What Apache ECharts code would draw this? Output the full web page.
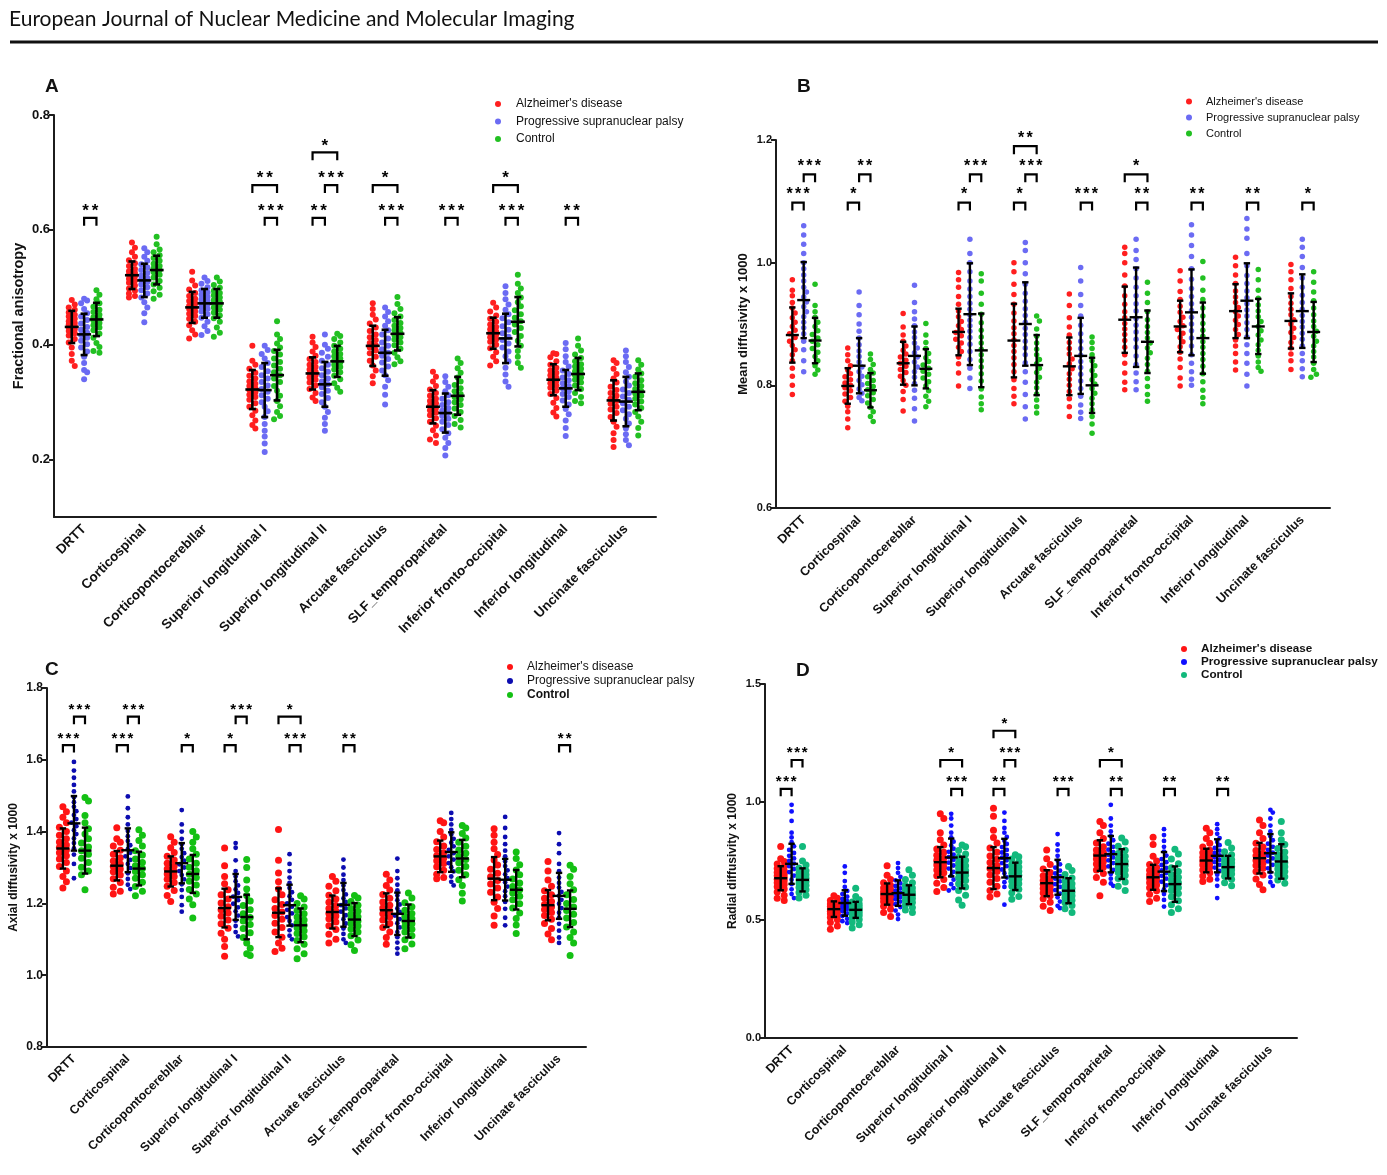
<!DOCTYPE html>
<html>
<head>
<meta charset="utf-8">
<title>DTI metrics by tract</title>
<script src="https://cdn.jsdelivr.net/npm/echarts@6/dist/echarts.min.js"></script>
<style>
  html, body { margin: 0; padding: 0; background: #fff; }
  #chart { width: 1387px; height: 1175px; }
</style>
</head>
<body>
<div id="chart"></div>
<script>
const TRACTS = ['DRTT', 'Corticospinal', 'Corticopontocerebllar', 'Superior longitudinal I',
  'Superior longitudinal II', 'Arcuate fasciculus', 'SLF_temporoparietal',
  'Inferior fronto-occipital', 'Inferior longitudinal', 'Uncinate fasciculus'];
const GROUPS = ["Alzheimer's disease", 'Progressive supranuclear palsy', 'Control'];

// ---- A: fractional anisotropy ----
const faTicks = [0.2, 0.4, 0.6, 0.8];
const faAD = [
  [0.478,0.47,0.465,0.461,0.456,0.452,0.449,0.445,0.441,0.438,0.435,0.432,0.43,0.427,0.424,0.42,0.416,0.41,0.404,0.395,0.384,0.372,0.363],
  [0.578,0.569,0.561,0.553,0.547,0.542,0.537,0.532,0.528,0.525,0.522,0.519,0.515,0.512,0.508,0.503,0.498,0.494,0.489,0.485,0.482],
  [0.527,0.512,0.503,0.496,0.49,0.485,0.48,0.476,0.472,0.468,0.465,0.462,0.458,0.454,0.45,0.445,0.44,0.434,0.425,0.418,0.411],
  [0.398,0.372,0.365,0.358,0.351,0.346,0.341,0.336,0.332,0.328,0.324,0.321,0.317,0.313,0.309,0.304,0.298,0.292,0.285,0.277,0.268,0.26,0.254],
  [0.414,0.404,0.396,0.388,0.381,0.375,0.37,0.365,0.361,0.357,0.353,0.35,0.347,0.343,0.339,0.334,0.329,0.323,0.316,0.308,0.302],
  [0.472,0.462,0.452,0.444,0.437,0.43,0.424,0.418,0.413,0.408,0.403,0.399,0.395,0.39,0.385,0.379,0.372,0.364,0.355,0.345,0.333],
  [0.353,0.344,0.336,0.328,0.322,0.316,0.311,0.306,0.302,0.298,0.294,0.29,0.286,0.282,0.277,0.272,0.266,0.259,0.251,0.242,0.235,0.229],
  [0.473,0.465,0.458,0.451,0.445,0.44,0.435,0.431,0.427,0.423,0.42,0.417,0.413,0.409,0.405,0.4,0.394,0.387,0.379,0.371,0.364],
  [0.385,0.384,0.378,0.371,0.365,0.36,0.355,0.351,0.347,0.343,0.34,0.337,0.333,0.329,0.325,0.32,0.314,0.307,0.299,0.29,0.282,0.275],
  [0.373,0.368,0.358,0.349,0.341,0.334,0.327,0.321,0.316,0.311,0.306,0.302,0.297,0.292,0.287,0.281,0.274,0.266,0.257,0.246,0.234,0.222]
];
const faPSP = [
  [0.48,0.477,0.472,0.462,0.455,0.449,0.443,0.437,0.431,0.426,0.421,0.417,0.412,0.407,0.401,0.395,0.388,0.379,0.368,0.356,0.352,0.34],
  [0.568,0.561,0.553,0.546,0.54,0.535,0.53,0.525,0.52,0.516,0.513,0.509,0.505,0.5,0.495,0.489,0.482,0.474,0.465,0.455,0.439],
  [0.517,0.511,0.506,0.5,0.495,0.491,0.487,0.483,0.479,0.476,0.473,0.47,0.466,0.462,0.458,0.453,0.447,0.44,0.432,0.424,0.417],
  [0.398,0.391,0.384,0.376,0.368,0.361,0.354,0.347,0.341,0.335,0.329,0.323,0.318,0.312,0.306,0.3,0.292,0.284,0.274,0.262,0.25,0.24,0.228,0.213],
  [0.418,0.4,0.393,0.386,0.379,0.372,0.365,0.359,0.353,0.347,0.341,0.336,0.331,0.326,0.32,0.314,0.307,0.3,0.292,0.283,0.273,0.262,0.25],
  [0.465,0.457,0.449,0.441,0.433,0.425,0.418,0.411,0.404,0.398,0.392,0.386,0.381,0.375,0.369,0.362,0.355,0.347,0.338,0.327,0.313,0.296],
  [0.345,0.335,0.327,0.319,0.312,0.306,0.3,0.295,0.29,0.285,0.281,0.276,0.271,0.266,0.26,0.253,0.246,0.238,0.229,0.22,0.207],
  [0.502,0.49,0.479,0.47,0.461,0.453,0.446,0.439,0.432,0.426,0.42,0.414,0.408,0.402,0.395,0.388,0.38,0.371,0.36,0.348,0.336,0.327],
  [0.403,0.392,0.38,0.37,0.362,0.355,0.349,0.343,0.338,0.333,0.328,0.324,0.319,0.314,0.309,0.303,0.296,0.288,0.279,0.268,0.255,0.241],
  [0.39,0.38,0.37,0.361,0.352,0.344,0.336,0.329,0.322,0.316,0.31,0.304,0.298,0.292,0.286,0.279,0.271,0.263,0.254,0.244,0.234,0.225]
];
const faCtrl = [
  [0.495,0.487,0.479,0.472,0.466,0.461,0.457,0.452,0.448,0.445,0.442,0.438,0.434,0.43,0.425,0.419,0.412,0.403,0.396,0.389,0.386],
  [0.588,0.575,0.566,0.561,0.556,0.551,0.546,0.541,0.537,0.533,0.53,0.526,0.522,0.517,0.511,0.505,0.499,0.493,0.487,0.48],
  [0.517,0.51,0.504,0.499,0.494,0.49,0.486,0.482,0.478,0.475,0.472,0.469,0.465,0.461,0.456,0.451,0.446,0.44,0.43,0.421,0.414],
  [0.441,0.418,0.41,0.402,0.395,0.389,0.383,0.376,0.37,0.364,0.358,0.352,0.347,0.341,0.335,0.328,0.32,0.311,0.302,0.293,0.283,0.276,0.27],
  [0.419,0.415,0.41,0.404,0.398,0.393,0.388,0.384,0.38,0.376,0.372,0.369,0.365,0.361,0.357,0.352,0.346,0.34,0.333,0.325,0.318],
  [0.483,0.471,0.462,0.455,0.449,0.443,0.438,0.433,0.429,0.425,0.421,0.417,0.413,0.409,0.404,0.399,0.393,0.386,0.378,0.371,0.366],
  [0.376,0.368,0.359,0.351,0.343,0.336,0.33,0.324,0.319,0.314,0.309,0.305,0.3,0.295,0.289,0.283,0.276,0.269,0.262,0.256],
  [0.522,0.506,0.498,0.49,0.482,0.474,0.467,0.46,0.453,0.447,0.441,0.435,0.429,0.422,0.415,0.407,0.398,0.389,0.379,0.368,0.36],
  [0.411,0.398,0.39,0.383,0.377,0.371,0.366,0.362,0.358,0.354,0.35,0.347,0.343,0.339,0.334,0.329,0.323,0.316,0.309,0.302,0.298],
  [0.373,0.365,0.357,0.35,0.344,0.338,0.333,0.328,0.323,0.319,0.315,0.311,0.306,0.301,0.296,0.29,0.283,0.275,0.266,0.255,0.242]
];
const faMeanAD = [0.431,0.521,0.465,0.322,0.350,0.398,0.292,0.420,0.339,0.303];
const faSdAD = [0.028,0.024,0.027,0.034,0.028,0.035,0.029,0.027,0.027,0.035];
const faMeanPSP = [0.418,0.512,0.472,0.321,0.331,0.386,0.281,0.411,0.324,0.301];
const faSdPSP = [0.036,0.029,0.025,0.047,0.039,0.040,0.034,0.043,0.032,0.043];
const faMeanCtrl = [0.444,0.530,0.472,0.347,0.371,0.419,0.311,0.440,0.349,0.318];
const faSdCtrl = [0.029,0.025,0.025,0.044,0.027,0.029,0.033,0.043,0.028,0.032];
// [tract, from group, to group, bracket level, number of stars]
const faBrackets = [
  [0,1,2,0.621,2],[3,1,2,0.621,3],[3,0,2,0.678,2],[4,0,1,0.621,2],[4,1,2,0.678,3],[4,0,2,0.735,1],
  [5,1,2,0.621,3],[5,0,2,0.678,1],[6,1,2,0.621,3],[7,1,2,0.621,3],[7,0,2,0.678,1],[8,1,2,0.621,2]
];

// ---- B: mean diffusivity ----
const mdTicks = [0.6, 0.8, 1.0, 1.2];
const mdAD = [
  [0.972,0.955,0.946,0.935,0.926,0.918,0.91,0.903,0.896,0.89,0.884,0.878,0.872,0.865,0.858,0.85,0.84,0.828,0.815,0.8,0.785],
  [0.861,0.85,0.84,0.832,0.825,0.819,0.814,0.809,0.804,0.8,0.796,0.791,0.786,0.78,0.774,0.766,0.757,0.745,0.731],
  [0.917,0.895,0.882,0.872,0.864,0.857,0.851,0.846,0.841,0.836,0.831,0.826,0.821,0.815,0.808,0.8,0.79,0.777,0.758],
  [0.984,0.972,0.96,0.945,0.932,0.921,0.912,0.904,0.897,0.891,0.886,0.881,0.875,0.869,0.862,0.855,0.846,0.835,0.82,0.799],
  [1.0,0.985,0.965,0.948,0.932,0.918,0.905,0.894,0.884,0.874,0.865,0.855,0.845,0.834,0.822,0.809,0.795,0.782,0.77],
  [0.949,0.93,0.91,0.895,0.882,0.87,0.86,0.851,0.843,0.835,0.827,0.819,0.81,0.8,0.79,0.778,0.765,0.749],
  [1.025,1.015,1.0,0.98,0.962,0.946,0.932,0.92,0.91,0.901,0.892,0.883,0.873,0.862,0.85,0.836,0.82,0.805,0.793],
  [0.987,0.97,0.953,0.94,0.929,0.919,0.911,0.904,0.897,0.891,0.885,0.878,0.871,0.863,0.854,0.843,0.829,0.812,0.799],
  [1.009,0.995,0.98,0.966,0.954,0.944,0.935,0.927,0.92,0.913,0.906,0.899,0.891,0.883,0.874,0.864,0.852,0.838,0.825],
  [0.997,0.985,0.972,0.958,0.945,0.934,0.924,0.915,0.907,0.9,0.893,0.886,0.878,0.87,0.861,0.851,0.84,0.826]
];
const mdPSP = [
  [1.06,1.045,1.03,1.015,1.0,0.99,0.98,0.97,0.96,0.952,0.944,0.936,0.928,0.92,0.912,0.903,0.894,0.884,0.872,0.858,0.84,0.822],
  [0.952,0.93,0.915,0.9,0.888,0.877,0.866,0.856,0.847,0.838,0.83,0.822,0.815,0.808,0.801,0.794,0.787,0.78,0.775],
  [0.963,0.935,0.92,0.908,0.897,0.887,0.878,0.869,0.861,0.853,0.846,0.838,0.83,0.822,0.813,0.803,0.792,0.779,0.762,0.742],
  [1.038,1.015,1.0,0.985,0.97,0.957,0.945,0.934,0.924,0.915,0.906,0.897,0.888,0.878,0.867,0.855,0.842,0.828,0.812,0.795],
  [1.033,1.02,1.0,0.982,0.965,0.95,0.937,0.925,0.914,0.903,0.893,0.883,0.872,0.861,0.85,0.837,0.822,0.805,0.785,0.765,0.745],
  [0.992,0.97,0.948,0.93,0.913,0.898,0.884,0.872,0.86,0.849,0.839,0.829,0.818,0.807,0.795,0.782,0.768,0.756,0.746],
  [1.038,1.02,1.005,0.99,0.975,0.96,0.946,0.933,0.921,0.909,0.898,0.887,0.875,0.862,0.848,0.834,0.82,0.806,0.793],
  [1.062,1.045,1.028,1.01,0.99,0.973,0.958,0.945,0.933,0.922,0.911,0.9,0.889,0.877,0.864,0.85,0.836,0.822,0.81,0.8],
  [1.072,1.055,1.04,1.015,0.995,0.979,0.966,0.954,0.943,0.933,0.923,0.913,0.902,0.891,0.879,0.866,0.852,0.836,0.818,0.799],
  [1.038,1.025,1.01,0.992,0.975,0.96,0.947,0.935,0.924,0.914,0.904,0.895,0.885,0.875,0.864,0.852,0.84,0.827,0.814]
];
const mdCtrl = [
  [0.965,0.93,0.92,0.911,0.903,0.896,0.889,0.883,0.877,0.872,0.866,0.86,0.854,0.847,0.84,0.832,0.825,0.818],
  [0.851,0.842,0.834,0.826,0.82,0.814,0.808,0.803,0.798,0.793,0.788,0.783,0.777,0.771,0.764,0.757,0.749,0.741],
  [0.901,0.882,0.87,0.86,0.852,0.845,0.839,0.833,0.828,0.823,0.818,0.812,0.806,0.799,0.791,0.782,0.774,0.765],
  [0.982,0.97,0.95,0.932,0.916,0.902,0.89,0.879,0.869,0.859,0.85,0.84,0.83,0.819,0.807,0.794,0.781,0.77,0.76],
  [0.913,0.905,0.892,0.88,0.869,0.859,0.85,0.842,0.835,0.828,0.821,0.813,0.805,0.796,0.786,0.776,0.765,0.755],
  [0.879,0.87,0.86,0.85,0.84,0.832,0.824,0.816,0.809,0.802,0.795,0.787,0.779,0.77,0.76,0.749,0.737,0.722],
  [0.968,0.95,0.935,0.92,0.907,0.896,0.886,0.877,0.869,0.861,0.853,0.844,0.834,0.823,0.811,0.798,0.785,0.774],
  [1.002,0.975,0.955,0.94,0.926,0.913,0.901,0.89,0.88,0.871,0.862,0.852,0.842,0.831,0.819,0.806,0.792,0.78,0.77],
  [0.989,0.972,0.955,0.942,0.931,0.921,0.912,0.904,0.896,0.889,0.882,0.874,0.866,0.857,0.848,0.838,0.829,0.823],
  [0.985,0.968,0.952,0.938,0.926,0.915,0.905,0.896,0.888,0.88,0.872,0.864,0.855,0.846,0.836,0.826,0.818,0.813]
];
const mdMeanAD = [0.882,0.799,0.836,0.887,0.873,0.831,0.907,0.896,0.921,0.905];
const mdSdAD = [0.045,0.029,0.035,0.038,0.060,0.047,0.054,0.042,0.044,0.045];
const mdMeanPSP = [0.939,0.832,0.848,0.916,0.900,0.848,0.911,0.919,0.938,0.921];
const mdSdPSP = [0.062,0.045,0.048,0.083,0.068,0.062,0.081,0.070,0.061,0.060];
const mdMeanCtrl = [0.873,0.792,0.827,0.857,0.833,0.800,0.871,0.877,0.896,0.887];
const mdSdCtrl = [0.037,0.028,0.032,0.060,0.049,0.045,0.051,0.058,0.045,0.049];
const mdBrackets = [
  [0,0,1,1.098,3],[0,1,2,1.144,3],[1,0,1,1.098,1],[1,1,2,1.144,2],[3,0,1,1.098,1],[3,1,2,1.144,3],
  [4,0,1,1.098,1],[4,1,2,1.144,3],[4,0,2,1.190,2],[5,1,2,1.098,3],[6,1,2,1.098,2],[6,0,2,1.144,1],
  [7,1,2,1.098,2],[8,1,2,1.098,2],[9,1,2,1.098,1]
];

// ---- C: axial diffusivity ----
const axTicks = [0.8, 1.0, 1.2, 1.4, 1.6, 1.8];
const axAD = [
  [1.469,1.455,1.44,1.425,1.412,1.4,1.39,1.38,1.371,1.363,1.356,1.349,1.341,1.333,1.324,1.314,1.303,1.29,1.275,1.26,1.243],
  [1.411,1.38,1.37,1.36,1.348,1.337,1.327,1.318,1.31,1.303,1.296,1.288,1.279,1.269,1.258,1.245,1.234,1.226],
  [1.386,1.37,1.355,1.342,1.331,1.321,1.312,1.304,1.296,1.289,1.282,1.275,1.267,1.258,1.248,1.236,1.222,1.205],
  [1.354,1.305,1.275,1.255,1.238,1.224,1.212,1.201,1.191,1.182,1.173,1.164,1.154,1.143,1.131,1.117,1.1,1.08,1.053],
  [1.406,1.32,1.285,1.26,1.24,1.224,1.21,1.197,1.186,1.176,1.166,1.156,1.145,1.133,1.12,1.106,1.09,1.075,1.066],
  [1.275,1.262,1.248,1.235,1.223,1.212,1.203,1.194,1.186,1.179,1.172,1.165,1.157,1.148,1.138,1.127,1.114,1.1,1.09],
  [1.281,1.265,1.25,1.237,1.225,1.214,1.204,1.195,1.187,1.179,1.171,1.163,1.154,1.144,1.133,1.12,1.105,1.086],
  [1.43,1.425,1.4,1.385,1.372,1.36,1.35,1.341,1.333,1.326,1.319,1.311,1.302,1.292,1.281,1.272,1.269],
  [1.408,1.39,1.37,1.352,1.336,1.321,1.307,1.295,1.284,1.274,1.264,1.254,1.243,1.231,1.218,1.203,1.186,1.165,1.139],
  [1.317,1.29,1.265,1.248,1.235,1.224,1.214,1.205,1.197,1.19,1.183,1.175,1.166,1.156,1.144,1.13,1.115,1.099]
];
const axPSP = [
  [1.594,1.57,1.55,1.53,1.512,1.496,1.482,1.469,1.457,1.446,1.435,1.425,1.415,1.404,1.393,1.381,1.368,1.353,1.336,1.31,1.27],
  [1.498,1.465,1.44,1.42,1.402,1.387,1.374,1.362,1.351,1.341,1.331,1.321,1.31,1.298,1.284,1.268,1.252,1.24],
  [1.46,1.42,1.4,1.38,1.365,1.352,1.34,1.329,1.319,1.309,1.3,1.29,1.279,1.267,1.253,1.237,1.218,1.195,1.177],
  [1.368,1.355,1.32,1.29,1.275,1.262,1.25,1.239,1.229,1.219,1.209,1.199,1.189,1.178,1.166,1.152,1.137,1.12,1.108],
  [1.337,1.31,1.29,1.272,1.257,1.243,1.231,1.22,1.21,1.2,1.191,1.182,1.172,1.162,1.151,1.139,1.125,1.11,1.1],
  [1.322,1.3,1.28,1.265,1.25,1.237,1.225,1.214,1.204,1.195,1.186,1.177,1.167,1.156,1.144,1.13,1.115,1.1,1.09],
  [1.325,1.29,1.27,1.252,1.236,1.222,1.209,1.197,1.186,1.176,1.166,1.156,1.145,1.133,1.12,1.106,1.091,1.075,1.06],
  [1.452,1.435,1.42,1.405,1.392,1.38,1.369,1.359,1.349,1.34,1.331,1.322,1.312,1.301,1.289,1.275,1.26,1.25],
  [1.441,1.41,1.385,1.365,1.347,1.331,1.317,1.304,1.292,1.281,1.27,1.259,1.247,1.234,1.22,1.204,1.185,1.16,1.139],
  [1.396,1.365,1.34,1.31,1.29,1.272,1.257,1.244,1.232,1.221,1.21,1.199,1.187,1.174,1.16,1.143,1.124,1.105,1.09]
];
const axCtrl = [
  [1.495,1.485,1.445,1.425,1.408,1.393,1.38,1.368,1.357,1.347,1.337,1.326,1.314,1.301,1.29,1.28,1.238],
  [1.405,1.39,1.375,1.36,1.347,1.335,1.324,1.314,1.305,1.297,1.289,1.28,1.27,1.259,1.247,1.234,1.221],
  [1.4,1.385,1.37,1.352,1.337,1.324,1.312,1.301,1.291,1.281,1.272,1.262,1.251,1.239,1.226,1.212,1.196,1.159],
  [1.322,1.3,1.265,1.24,1.222,1.207,1.194,1.182,1.171,1.161,1.151,1.141,1.13,1.118,1.105,1.09,1.075,1.06,1.055],
  [1.221,1.212,1.2,1.19,1.18,1.171,1.162,1.154,1.146,1.139,1.132,1.124,1.116,1.107,1.097,1.086,1.074,1.06,1.046],
  [1.222,1.215,1.205,1.195,1.186,1.178,1.17,1.163,1.157,1.151,1.144,1.137,1.129,1.12,1.11,1.098,1.085,1.069],
  [1.229,1.215,1.202,1.191,1.181,1.172,1.164,1.157,1.15,1.143,1.136,1.128,1.12,1.11,1.099,1.087,1.074],
  [1.417,1.41,1.395,1.382,1.37,1.359,1.349,1.34,1.331,1.322,1.313,1.303,1.292,1.28,1.266,1.25,1.228,1.207],
  [1.343,1.325,1.308,1.293,1.28,1.268,1.257,1.247,1.238,1.229,1.22,1.21,1.199,1.187,1.173,1.158,1.14,1.116],
  [1.306,1.295,1.275,1.255,1.238,1.224,1.211,1.2,1.19,1.18,1.17,1.159,1.147,1.134,1.12,1.105,1.09,1.055]
];
const axMeanAD = [1.353,1.305,1.289,1.187,1.174,1.176,1.181,1.331,1.269,1.195];
const axSdAD = [0.056,0.041,0.042,0.054,0.068,0.046,0.047,0.044,0.060,0.042];
const axMeanPSP = [1.423,1.348,1.312,1.218,1.195,1.196,1.171,1.343,1.266,1.221];
const axSdPSP = [0.076,0.061,0.056,0.064,0.057,0.061,0.059,0.055,0.058,0.064];
const axMeanCtrl = [1.347,1.297,1.282,1.162,1.139,1.155,1.151,1.325,1.238,1.185];
const axSdCtrl = [0.064,0.047,0.053,0.062,0.047,0.046,0.046,0.052,0.055,0.051];
const axBrackets = [
  [0,0,1,1.641,3],[0,1,2,1.72,3],[1,0,1,1.641,3],[1,1,2,1.72,3],[2,1,2,1.641,1],[3,0,1,1.641,1],
  [3,1,2,1.72,3],[4,1,2,1.641,3],[4,0,2,1.72,1],[5,1,2,1.641,2],[9,1,2,1.641,2]
];

// ---- D: radial diffusivity ----
const rdTicks = [0, 0.5, 1.0, 1.5];
const rdAD = [
  [0.811,0.76,0.748,0.737,0.727,0.718,0.709,0.701,0.694,0.687,0.68,0.673,0.666,0.658,0.65,0.641,0.631,0.619,0.605,0.592,0.583],
  [0.603,0.592,0.583,0.575,0.568,0.562,0.557,0.552,0.547,0.542,0.537,0.532,0.526,0.519,0.511,0.501,0.489,0.475,0.461],
  [0.73,0.69,0.672,0.658,0.646,0.636,0.628,0.62,0.613,0.606,0.599,0.592,0.585,0.577,0.568,0.558,0.546,0.532,0.515],
  [0.95,0.93,0.87,0.84,0.818,0.801,0.787,0.774,0.763,0.753,0.743,0.733,0.723,0.712,0.7,0.687,0.672,0.656,0.638,0.621],
  [0.974,0.94,0.88,0.85,0.826,0.805,0.787,0.771,0.757,0.744,0.731,0.718,0.705,0.691,0.676,0.66,0.643,0.625,0.61,0.597],
  [0.797,0.76,0.735,0.716,0.701,0.688,0.677,0.667,0.658,0.65,0.642,0.633,0.624,0.614,0.603,0.59,0.575,0.558,0.54],
  [0.917,0.9,0.87,0.845,0.826,0.81,0.797,0.786,0.776,0.767,0.758,0.748,0.737,0.725,0.712,0.697,0.68,0.66,0.603],
  [0.851,0.82,0.77,0.75,0.735,0.722,0.711,0.701,0.692,0.684,0.676,0.667,0.658,0.648,0.637,0.624,0.609,0.592,0.578],
  [0.889,0.87,0.845,0.825,0.809,0.796,0.785,0.775,0.766,0.758,0.75,0.742,0.733,0.723,0.712,0.7,0.686,0.673,0.663],
  [0.924,0.9,0.87,0.845,0.825,0.809,0.795,0.783,0.772,0.762,0.752,0.742,0.731,0.719,0.706,0.691,0.674,0.65,0.628]
];
const rdPSP = [
  [0.988,0.96,0.92,0.87,0.85,0.83,0.812,0.797,0.784,0.772,0.761,0.75,0.739,0.728,0.716,0.703,0.688,0.671,0.652,0.63,0.61,0.593],
  [0.727,0.7,0.665,0.64,0.623,0.61,0.599,0.589,0.58,0.571,0.563,0.555,0.547,0.538,0.528,0.517,0.505,0.495,0.487],
  [0.741,0.72,0.7,0.683,0.668,0.655,0.644,0.634,0.624,0.615,0.606,0.597,0.588,0.578,0.567,0.555,0.54,0.523,0.504],
  [0.95,0.93,0.9,0.87,0.85,0.832,0.816,0.802,0.789,0.777,0.766,0.755,0.743,0.731,0.718,0.704,0.688,0.671,0.652,0.635,0.625],
  [0.955,0.92,0.89,0.87,0.852,0.836,0.822,0.809,0.797,0.786,0.775,0.764,0.753,0.741,0.728,0.714,0.698,0.68,0.66,0.64,0.565],
  [0.864,0.82,0.795,0.772,0.752,0.736,0.722,0.709,0.697,0.686,0.675,0.664,0.652,0.64,0.627,0.612,0.596,0.578,0.56,0.55],
  [0.988,0.93,0.9,0.875,0.855,0.838,0.823,0.81,0.798,0.787,0.776,0.765,0.753,0.741,0.727,0.712,0.695,0.675,0.655,0.645],
  [0.885,0.86,0.835,0.81,0.79,0.773,0.758,0.745,0.733,0.721,0.71,0.699,0.687,0.675,0.662,0.647,0.63,0.61,0.585,0.557],
  [0.906,0.885,0.865,0.847,0.831,0.817,0.805,0.794,0.784,0.774,0.765,0.755,0.745,0.734,0.722,0.708,0.692,0.672,0.645,0.593],
  [0.967,0.955,0.93,0.9,0.875,0.855,0.838,0.823,0.81,0.797,0.785,0.773,0.761,0.748,0.734,0.719,0.702,0.682,0.66,0.645]
];
const rdCtrl = [
  [0.811,0.75,0.733,0.72,0.709,0.7,0.692,0.684,0.677,0.67,0.663,0.655,0.647,0.638,0.628,0.617,0.605,0.593],
  [0.635,0.6,0.586,0.576,0.568,0.561,0.555,0.549,0.544,0.538,0.532,0.526,0.519,0.511,0.502,0.492,0.48,0.466],
  [0.713,0.69,0.672,0.658,0.646,0.636,0.627,0.619,0.612,0.605,0.598,0.591,0.583,0.574,0.564,0.553,0.542,0.532],
  [0.818,0.81,0.795,0.78,0.766,0.753,0.741,0.73,0.72,0.71,0.7,0.69,0.679,0.667,0.654,0.64,0.625,0.605,0.585,0.562],
  [0.776,0.768,0.758,0.746,0.735,0.725,0.715,0.706,0.698,0.69,0.682,0.673,0.664,0.654,0.643,0.63,0.615,0.6,0.588],
  [0.727,0.71,0.693,0.678,0.665,0.654,0.644,0.635,0.627,0.619,0.611,0.603,0.594,0.584,0.573,0.561,0.548,0.532],
  [0.847,0.83,0.812,0.796,0.782,0.77,0.759,0.749,0.74,0.731,0.722,0.712,0.701,0.689,0.676,0.661,0.643,0.625],
  [0.8,0.78,0.758,0.738,0.721,0.706,0.693,0.681,0.67,0.659,0.648,0.637,0.625,0.612,0.598,0.582,0.565,0.548,0.532],
  [0.828,0.805,0.789,0.776,0.765,0.756,0.748,0.741,0.734,0.727,0.72,0.712,0.704,0.695,0.685,0.673,0.658,0.645],
  [0.917,0.87,0.84,0.82,0.803,0.788,0.775,0.764,0.754,0.744,0.735,0.726,0.716,0.706,0.695,0.683,0.67,0.656]
];
const rdMeanAD = [0.677,0.546,0.610,0.745,0.720,0.656,0.773,0.681,0.752,0.762];
const rdSdAD = [0.051,0.033,0.045,0.064,0.089,0.055,0.065,0.053,0.050,0.065];
const rdMeanPSP = [0.738,0.572,0.614,0.765,0.762,0.681,0.779,0.705,0.772,0.783];
const rdSdPSP = [0.085,0.054,0.054,0.080,0.082,0.074,0.077,0.083,0.070,0.081];
const rdMeanCtrl = [0.670,0.543,0.607,0.701,0.685,0.624,0.737,0.652,0.724,0.748];
const rdSdCtrl = [0.049,0.034,0.040,0.067,0.058,0.053,0.063,0.075,0.048,0.073];
const rdBrackets = [
  [0,0,1,1.056,3],[0,1,2,1.178,3],[3,1,2,1.056,3],[3,0,2,1.178,1],[4,0,1,1.056,2],[4,1,2,1.178,3],
  [4,0,2,1.302,1],[5,1,2,1.056,3],[6,1,2,1.056,2],[6,0,2,1.178,1],[7,1,2,1.056,2],[8,1,2,1.056,2]
];

const FONT = '"Liberation Sans", Arial, Helvetica, sans-serif';
const AXIS_COLOR = '#1c1c1c';

const panels = [
  {
    letter: 'A', letterPos: [45, 77],
    rect: { left: 54, top: 115, width: 602, height: 402 },
    min: 0.1, max: 0.8, ticks: faTicks, yName: 'Fractional anisotropy',
    nameSize: 14.4, nameGap: 28, tickSize: 13, xSize: 13.4, xMargin: 10,
    points: [faAD, faPSP, faCtrl],
    means: [faMeanAD, faMeanPSP, faMeanCtrl], sds: [faSdAD, faSdPSP, faSdCtrl],
    brackets: faBrackets,
    colors: ['#ff1f1f', '#6b6bf3', '#22c022'], dots: [6, 6, 6],
    bar: 2.6, cap: 3.5, meanHalf: 7, leg: 8, starStep: 9.5, starSize: 17, starGap: 10,
    legend: { left: 495, top: 98, gap: 5.5, font: 12, itemWidth: 26, bold: [false, false, false] }
  },
  {
    letter: 'B', letterPos: [797, 77],
    rect: { left: 776, top: 140, width: 554, height: 368 },
    min: 0.6, max: 1.2, ticks: mdTicks, yName: 'Mean diffusivity x 1000',
    nameSize: 13, nameGap: 26, tickSize: 11, xSize: 12.6, xMargin: 10,
    points: [mdAD, mdPSP, mdCtrl],
    means: [mdMeanAD, mdMeanPSP, mdMeanCtrl], sds: [mdSdAD, mdSdPSP, mdSdCtrl],
    brackets: mdBrackets,
    colors: ['#ff1f1f', '#6b6bf3', '#22c022'], dots: [5.5, 5.5, 5.5],
    bar: 2.4, cap: 3.2, meanHalf: 6.5, leg: 8, starStep: 8.5, starSize: 16, starGap: 11,
    legend: { left: 1186, top: 96, gap: 5, font: 11, itemWidth: 24, bold: [false, false, false] }
  },
  {
    letter: 'C', letterPos: [45, 660],
    rect: { left: 47, top: 688, width: 539, height: 359 },
    min: 0.8, max: 1.8, ticks: axTicks, yName: 'Axial diffusivity x 1000',
    nameSize: 12, nameGap: 27, tickSize: 12, xSize: 12.4, xMargin: 10,
    points: [axAD, axPSP, axCtrl],
    means: [axMeanAD, axMeanPSP, axMeanCtrl], sds: [axSdAD, axSdPSP, axSdCtrl],
    brackets: axBrackets,
    colors: ['#ff1414', '#0c0cb0', '#14c014'], dots: [7, 4.8, 7],
    bar: 2.4, cap: 3.2, meanHalf: 6.5, leg: 7.5, starStep: 8, starSize: 15, starGap: 10,
    legend: { left: 507, top: 661, gap: 2, font: 12, itemWidth: 24, bold: [false, false, true] }
  },
  {
    letter: 'D', letterPos: [796, 661],
    rect: { left: 765, top: 684, width: 532, height: 354 },
    min: 0, max: 1.5, ticks: rdTicks, yName: 'Radial diffusivity x 1000',
    nameSize: 12, nameGap: 26, tickSize: 11, xSize: 12.4, xMargin: 10,
    points: [rdAD, rdPSP, rdCtrl],
    means: [rdMeanAD, rdMeanPSP, rdMeanCtrl], sds: [rdSdAD, rdSdPSP, rdSdCtrl],
    brackets: rdBrackets,
    colors: ['#ff1414', '#1010ff', '#12b97c'], dots: [7, 4.8, 7],
    bar: 2.4, cap: 3.2, meanHalf: 6.5, leg: 7.5, starStep: 7.5, starSize: 15, starGap: 10,
    legend: { left: 1181, top: 643, gap: 1, font: 11.7, itemWidth: 24, bold: [true, true, true] }
  }
];

// simple beeswarm: put each dot in the side slot where it overlaps its neighbours least
function swarmOffsets(values, pxPerUnit, dot) {
  const step = dot * 0.5;
  const slots = [0, step, -step];
  const placed = [];
  return values.map((v) => {
    const y = v * pxPerUnit;
    let best = 0;
    let bestCost = Infinity;
    for (const dx of slots) {
      let cost = 0;
      placed.forEach((p) => {
        const d = Math.hypot(p.x - dx, p.y - y);
        cost += Math.max(0, dot * 0.9 - d);
      });
      if (cost < bestCost - 1e-6) {
        best = dx;
        bestCost = cost;
      }
    }
    placed.push({ x: best, y });
    return best;
  });
}

const option = {
  animation: false,
  backgroundColor: '#fff',
  title: [{
    text: 'European Journal of Nuclear Medicine and Molecular Imaging',
    left: 9, top: 9, padding: 0,
    textStyle: { fontFamily: 'Lato, "Open Sans", sans-serif', fontWeight: 'normal', fontSize: 21, color: '#111' }
  }],
  graphic: [{
    type: 'rect', shape: { x: 10, y: 40.5, width: 1368, height: 3 }, style: { fill: '#111' }
  }],
  grid: [], xAxis: [], yAxis: [], legend: [], series: []
};

panels.forEach((p, idx) => {
  const band = p.rect.width / TRACTS.length;
  const gOff = band * 0.205;
  const pxPerUnit = p.rect.height / (p.max - p.min);

  option.title.push({
    text: p.letter, left: p.letterPos[0], top: p.letterPos[1], padding: 0,
    textStyle: { fontFamily: FONT, fontWeight: 'bold', fontSize: 19, color: '#111' }
  });

  option.grid.push(Object.assign({}, p.rect));

  option.xAxis.push({
    type: 'category', gridIndex: idx, data: TRACTS,
    axisLine: { lineStyle: { color: AXIS_COLOR, width: 2 } },
    axisTick: { alignWithLabel: true, length: 5, lineStyle: { color: AXIS_COLOR, width: 2 } },
    axisLabel: { rotate: 45, interval: 0, margin: p.xMargin, fontFamily: FONT, fontWeight: 'bold', fontSize: p.xSize, color: '#111' },
    splitLine: { show: false }
  });

  option.yAxis.push({
    type: 'value', gridIndex: idx, min: p.min, max: p.max,
    name: p.yName, nameLocation: 'middle', nameGap: p.nameGap,
    nameTextStyle: { fontFamily: FONT, fontWeight: 'bold', fontSize: p.nameSize, color: '#111' },
    axisLine: { show: true, lineStyle: { color: AXIS_COLOR, width: 2 } },
    axisTick: { show: true, length: 5, customValues: p.ticks, lineStyle: { color: AXIS_COLOR, width: 2 } },
    axisLabel: {
      customValues: p.ticks, margin: 4, fontFamily: FONT, fontWeight: 'bold', fontSize: p.tickSize, color: '#111',
      formatter: (v) => Number(v).toFixed(1)
    },
    splitLine: { show: false }
  });

  option.legend.push({
    left: p.legend.left, top: p.legend.top, orient: 'vertical',
    itemGap: p.legend.gap, itemWidth: p.legend.itemWidth, itemHeight: 6,
    icon: 'circle', selectedMode: false, padding: 0,
    textStyle: { fontFamily: FONT, fontSize: p.legend.font, color: '#111' },
    data: GROUPS.map((name, g) => ({
      name,
      itemStyle: { color: p.colors[g] },
      textStyle: { fontWeight: p.legend.bold[g] ? 'bold' : 'normal' }
    }))
  });

  // dots
  p.points.forEach((groupData, g) => {
    const data = [];
    groupData.forEach((vals, c) => {
      const offs = swarmOffsets(vals, pxPerUnit, p.dots[g]);
      vals.forEach((v, i) => {
        data.push({ value: [c, v], symbolOffset: [(g - 1) * gOff + offs[i], 0] });
      });
    });
    option.series.push({
      type: 'scatter', name: GROUPS[g], xAxisIndex: idx, yAxisIndex: idx,
      data, symbol: 'circle', symbolSize: p.dots[g], silent: true, z: 2,
      itemStyle: { color: p.colors[g], opacity: 1 }
    });
  });

  // mean and SD bars
  const barData = [];
  TRACTS.forEach((t, c) => {
    for (let g = 0; g < 3; g++) {
      barData.push([c, g, p.means[g][c], p.sds[g][c]]);
    }
  });
  option.series.push({
    type: 'custom', xAxisIndex: idx, yAxisIndex: idx, silent: true, z: 4,
    encode: { x: 0, y: 2 },
    data: barData,
    renderItem: (params, api) => {
      const c = api.value(0);
      const g = api.value(1);
      const m = api.value(2);
      const s = api.value(3);
      const mid = api.coord([c, m]);
      const x = mid[0] + (g - 1) * gOff;
      const yT = api.coord([c, m + s])[1];
      const yB = api.coord([c, m - s])[1];
      const st = { stroke: '#000', lineWidth: p.bar };
      return {
        type: 'group',
        children: [
          { type: 'line', shape: { x1: x, y1: yT, x2: x, y2: yB }, style: st },
          { type: 'line', shape: { x1: x - p.cap, y1: yT, x2: x + p.cap, y2: yT }, style: st },
          { type: 'line', shape: { x1: x - p.cap, y1: yB, x2: x + p.cap, y2: yB }, style: st },
          { type: 'line', shape: { x1: x - p.meanHalf, y1: mid[1], x2: x + p.meanHalf, y2: mid[1] }, style: st }
        ]
      };
    }
  });

  // significance brackets
  option.series.push({
    type: 'custom', xAxisIndex: idx, yAxisIndex: idx, silent: true, z: 4,
    encode: { x: 0, y: 3 },
    data: p.brackets,
    renderItem: (params, api) => {
      const c = api.value(0);
      const g1 = api.value(1);
      const g2 = api.value(2);
      const lv = api.value(3);
      const n = api.value(4);
      const pt = api.coord([c, lv]);
      const x1 = pt[0] + (g1 - 1) * gOff;
      const x2 = pt[0] + (g2 - 1) * gOff;
      const y = pt[1];
      const children = [{
        type: 'polyline',
        shape: { points: [[x1, y + p.leg], [x1, y], [x2, y], [x2, y + p.leg]] },
        style: { stroke: '#000', lineWidth: 2.2, fill: 'none' }
      }];
      const cx = (x1 + x2) / 2;
      for (let i = 0; i < n; i++) {
        children.push({
          type: 'text',
          x: cx + (i - (n - 1) / 2) * p.starStep,
          y: y - p.starGap + p.starSize * 0.22,
          style: {
            text: '*', fill: '#000', align: 'center', verticalAlign: 'middle',
            font: `bold ${p.starSize}px ${FONT}`
          }
        });
      }
      return { type: 'group', children };
    }
  });
});

const chart = echarts.init(document.getElementById('chart'), null, { renderer: 'canvas' });
chart.setOption(option);
</script>
</body>
</html>
